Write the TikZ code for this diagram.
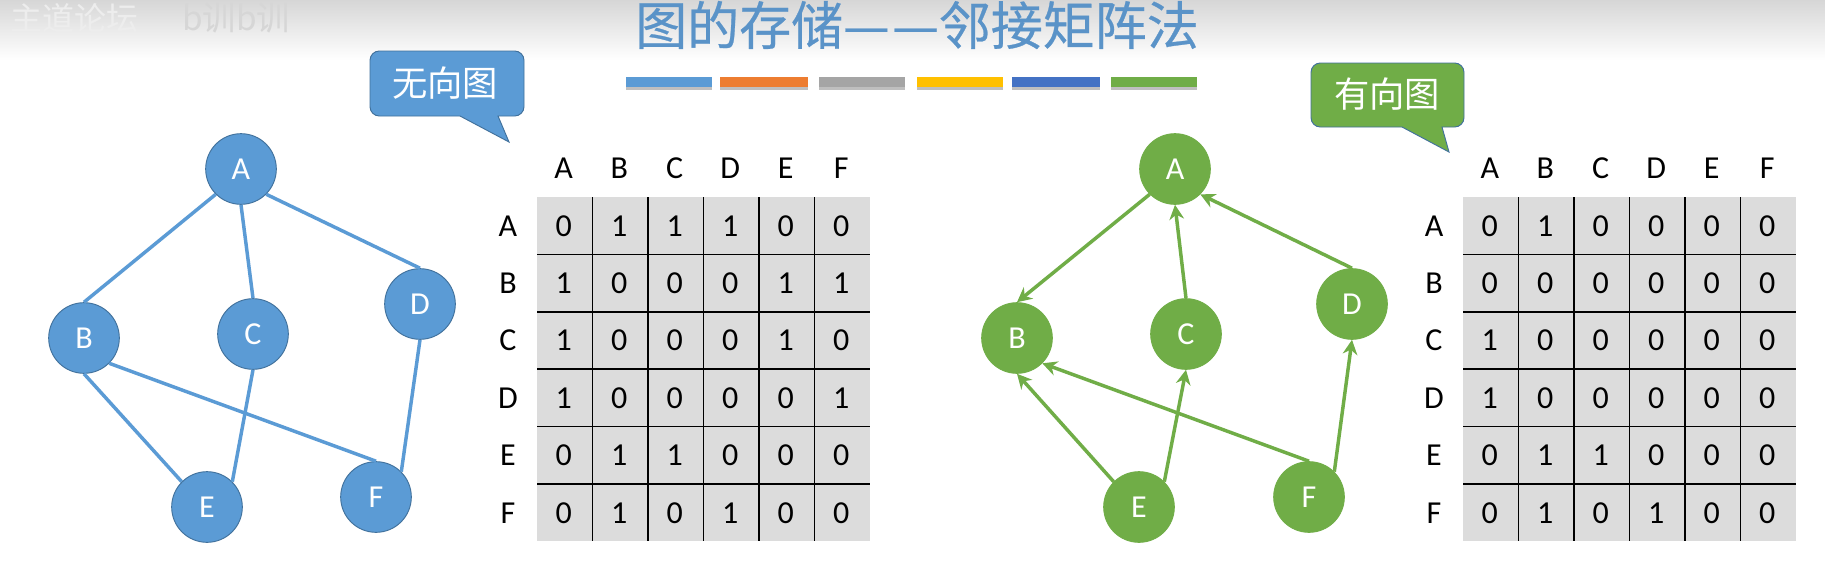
\documentclass[tikz,border=0pt]{standalone}
\usepackage{fontspec}
\setmainfont{Carlito}
\newfontfamily\cjk{Noto Sans CJK SC}
\newfontfamily\cjktitle[FakeBold=0.5]{Noto Sans CJK SC}
\usetikzlibrary{arrows.meta}
\definecolor{blueA}{HTML}{5B9BD5}
\definecolor{blueB}{HTML}{41719C}
\definecolor{greenA}{HTML}{70AD47}
\definecolor{cellgray}{HTML}{DCDCDC}
\definecolor{titleblue}{HTML}{5A93C8}
\definecolor{barorange}{HTML}{ED7D31}
\definecolor{bargray}{HTML}{A5A5A5}
\definecolor{baryellow}{HTML}{FFC000}
\definecolor{barblue}{HTML}{4472C4}
\def\cellw{55.5}
\def\cellh{57.4}
\tikzset{
    vertexblue/.style={circle, minimum size=53pt, inner sep=0pt, fill=blueA, draw=blueB, line width=0.7pt, text=white, font=\fontsize{24}{24}\selectfont},
    vertexgreen/.style={circle, minimum size=53pt, inner sep=0pt, fill=greenA, draw=greenA, line width=0.7pt, text=white, font=\fontsize{24}{24}\selectfont},
    edgeblue/.style={draw=blueA, line width=2.6pt},
    edgegreen/.style={draw=greenA, line width=2.6pt, -{Stealth[length=11pt, width=11pt]}},
    matlabel/.style={inner sep=0pt, text height=15.5pt, text depth=0pt, font=\fontsize{24}{24}\selectfont},
    calloutlabel/.style={inner sep=0pt, text=white, font=\cjk\fontsize{26.5}{26.5}\selectfont},
    gridline/.style={black, line width=1.1pt},
}
% one adjacency matrix: prefix, left edge, rows
\def\adjmat#1#2#3{
    \fill[cellgray] (#2,197) rectangle ({#2+6*\cellw},{197+6*\cellh});
    \foreach \i in {1,...,5} {
        \draw[gridline] ({#2+\i*\cellw},197) -- ({#2+\i*\cellw},{197+6*\cellh});
        \draw[gridline] (#2,{197+\i*\cellh}) -- ({#2+6*\cellw},{197+\i*\cellh});
    }
    \foreach \name [count=\k from 0] in {A,B,C,D,E,F} {
        \node[matlabel] (#1col\name) at ({#2+(\k+0.5)*\cellw-1},168) {\name};
        \node[matlabel] (#1row\name) at ({#2-29},{197+(\k+0.5)*\cellh}) {\name};
    }
    \foreach \row [count=\r from 0] in {#3} {
        \foreach \val [count=\c from 0] in \row {
            \node[matlabel] (#1cell\r\c) at ({#2+(\c+0.5)*\cellw-1},{197+(\r+0.5)*\cellh}) {\val};
        }
    }
}

\begin{document}
\begin{tikzpicture}[x=0.75pt, y=-0.75pt]
    \useasboundingbox (0,0) rectangle (1825,571);
    \fill[white] (0,0) rectangle (1825,571);
    \shade[top color=black!16, bottom color=white] (0,0) rectangle (1825,60);
    \node[inner sep=0pt, anchor=west, text=white!93!black, font=\cjk\fontsize{24}{24}\selectfont] (markA) at (10,18) {主道论坛};
    \node[inner sep=0pt, anchor=west, text=white!84!black, font=\cjk\fontsize{25}{25}\selectfont] (markB) at (182,18) {b训b训};

    % title
    \node[inner sep=0pt, text=titleblue, font=\cjktitle\fontsize{39}{39}\selectfont] (title) at (917,25) {图的存储—\hspace{2pt}—邻接矩阵法};
    \foreach \xa/\xb/\col in {626/712/blueA, 720/808/barorange, 819/905/bargray, 917/1003/baryellow, 1012/1100/barblue, 1111/1197/greenA} {
        \fill[black!25] (\xa,80) rectangle (\xb,90);
        \fill[\col] (\xa,77) rectangle (\xb,87);
    }

    % left graph
    \node[vertexblue] (lA) at (241,169) {A};
    \node[vertexblue] (lB) at (84,338) {B};
    \node[vertexblue] (lC) at (253,334) {C};
    \node[vertexblue] (lD) at (420,304) {D};
    \node[vertexblue] (lE) at (207,507) {E};
    \node[vertexblue] (lF) at (376,497) {F};
    \draw[edgeblue] (lA.225) -- (lB.north);
    \draw[edgeblue] (lA.south) -- (lC.north);
    \draw[edgeblue] (lA.-45) -- (lD.north);
    \draw[edgeblue] (lB.south) -- (lE.135);
    \draw[edgeblue] (lB.-45) -- (lF.north);
    \draw[edgeblue] (lC.south) -- (lE.45);
    \draw[edgeblue] (lD.south) -- (lF.45);

    \draw[fill=blueA, draw=blueB, line width=0.7pt] (460,116) [rounded corners=7pt] -- (370,116) -- (370,51) -- (524,51) -- (524,116) [sharp corners] -- (498,116) -- (509,142) -- cycle;
    \node[calloutlabel] (tagl) at (445,83) {无向图};
    \adjmat{l}{537}{{0,1,1,1,0,0},{1,0,0,0,1,1},{1,0,0,0,1,0},{1,0,0,0,0,1},{0,1,1,0,0,0},{0,1,0,1,0,0}}

    % right graph
    \node[vertexgreen] (rA) at (1175,169) {A};
    \node[vertexgreen] (rB) at (1017,338) {B};
    \node[vertexgreen] (rC) at (1186,334) {C};
    \node[vertexgreen] (rD) at (1352,304) {D};
    \node[vertexgreen] (rE) at (1139,507) {E};
    \node[vertexgreen] (rF) at (1309,497) {F};
    \draw[edgegreen] (rA.225) -- (rB.north);
    \draw[edgegreen] (rC.north) -- (rA.south);
    \draw[edgegreen] (rD.north) -- (rA.-45);
    \draw[edgegreen] (rE.135) -- (rB.south);
    \draw[edgegreen] (rF.north) -- (rB.-45);
    \draw[edgegreen] (rE.45) -- (rC.south);
    \draw[edgegreen] (rF.45) -- (rD.south);

    \draw[fill=greenA, draw=blueB, line width=0.7pt] (1402,127) [rounded corners=7pt] -- (1311,127) -- (1311,63) -- (1464,63) -- (1464,127) [sharp corners] -- (1442,127) -- (1449,152) -- cycle;
    \node[calloutlabel] (tagr) at (1387,94) {有向图};
    \adjmat{r}{1463}{{0,1,0,0,0,0},{0,0,0,0,0,0},{1,0,0,0,0,0},{1,0,0,0,0,0},{0,1,1,0,0,0},{0,1,0,1,0,0}}
\end{tikzpicture}
\end{document}
